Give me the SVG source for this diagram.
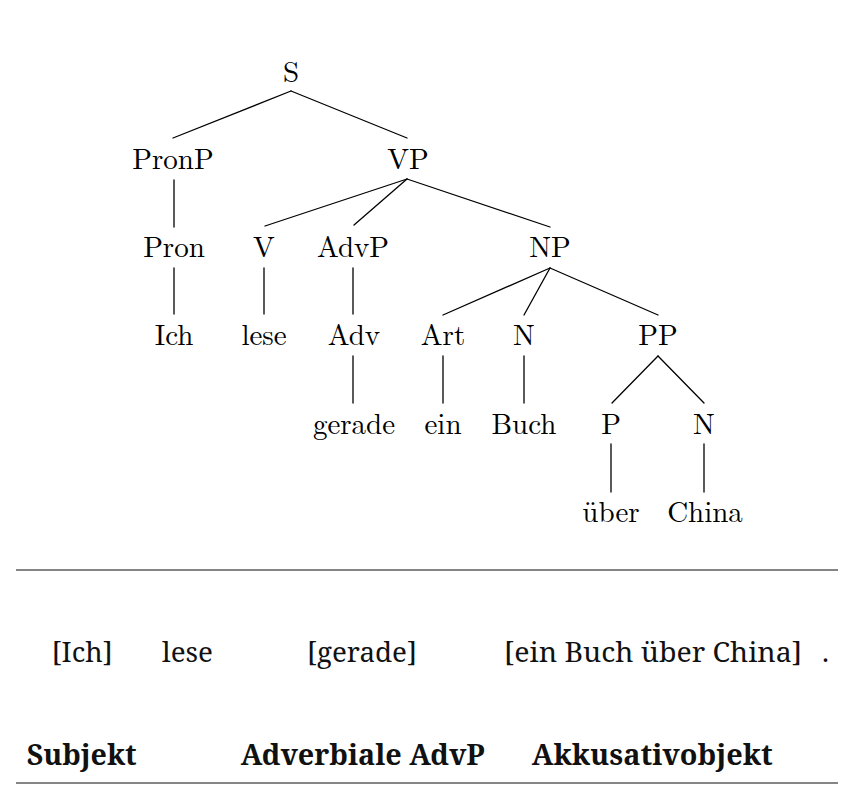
<svg xmlns="http://www.w3.org/2000/svg" width="847" height="803" viewBox="0 0 847 803">
<style>
.t{fill:#000;text-anchor:middle}
.b{fill:#111}
.e{stroke:#000;stroke-width:1.3;fill:none;stroke-linecap:round}
.rule{stroke:#858585;stroke-width:1.8}
</style>
<rect width="847" height="803" fill="#fff"/>
<g id="connectors" class="e">
<line x1="291" y1="91" x2="173" y2="138"/>
<line x1="291" y1="91" x2="407" y2="138"/>
<line x1="174" y1="180" x2="174" y2="227"/>
<line x1="407" y1="179" x2="265" y2="226"/>
<line x1="407" y1="179" x2="354" y2="225"/>
<line x1="407" y1="179" x2="550" y2="227"/>
<line x1="174" y1="268" x2="174" y2="314"/>
<line x1="264" y1="268" x2="264" y2="314"/>
<line x1="353" y1="268" x2="353" y2="314"/>
<line x1="550" y1="268" x2="443" y2="315"/>
<line x1="550" y1="268" x2="524" y2="315"/>
<line x1="550" y1="268" x2="658" y2="315"/>
<line x1="353" y1="356" x2="353" y2="403"/>
<line x1="443" y1="356" x2="443" y2="403"/>
<line x1="524" y1="356" x2="524" y2="403"/>
<line x1="658" y1="356" x2="612" y2="403"/>
<line x1="658" y1="356" x2="704" y2="403"/>
<line x1="611" y1="444" x2="611" y2="492"/>
<line x1="704" y1="444" x2="704" y2="492"/>
</g>
<g id="tree" font-family="Latin Modern Roman, Liberation Serif, serif" font-size="29">
<g id="n-S"><text class="t" x="291" y="81.5">S</text></g>
<g id="n-PronP"><text class="t" x="173" y="169">PronP</text></g>
<g id="n-VP"><text class="t" x="408" y="169">VP</text></g>
<g id="n-Pron"><text class="t" x="174" y="257">Pron</text></g>
<g id="n-V"><text class="t" x="264" y="257">V</text></g>
<g id="n-AdvP"><text class="t" x="353" y="257">AdvP</text></g>
<g id="n-NP"><text class="t" x="550" y="257">NP</text></g>
<g id="n-Ich"><text class="t" x="174" y="345">Ich</text></g>
<g id="n-lese"><text class="t" x="264" y="345">lese</text></g>
<g id="n-Adv"><text class="t" x="354" y="345">Adv</text></g>
<g id="n-Art"><text class="t" x="443" y="345">Art</text></g>
<g id="n-N1"><text class="t" x="524" y="345">N</text></g>
<g id="n-PP"><text class="t" x="658" y="345">PP</text></g>
<g id="n-gerade"><text class="t" x="354" y="433.5">gerade</text></g>
<g id="n-ein"><text class="t" x="443" y="433.5">ein</text></g>
<g id="n-Buch"><text class="t" x="524" y="433.5">Buch</text></g>
<g id="n-P"><text class="t" x="611" y="433.5">P</text></g>
<g id="n-N2"><text class="t" x="704" y="433.5">N</text></g>
<g id="n-ueber"><text class="t" x="611" y="521.7">über</text></g>
<g id="n-China"><text class="t" x="705" y="521.7">China</text></g>
</g>
<line class="rule" x1="16" y1="570" x2="838" y2="570"/>
<g id="sentence" font-family="Noto Serif, DejaVu Serif, serif" font-size="28">
<text class="b" x="51.7" y="661.7" textLength="61" lengthAdjust="spacingAndGlyphs">[Ich]</text>
<text class="b" x="162" y="661.7" textLength="51" lengthAdjust="spacingAndGlyphs">lese</text>
<text class="b" x="307" y="661.7" textLength="110" lengthAdjust="spacingAndGlyphs">[gerade]</text>
<text class="b" x="504" y="661.7" textLength="298" lengthAdjust="spacingAndGlyphs">[ein Buch über China]</text>
<text class="b" x="822" y="661.7">.</text>
</g>
<g id="functions" font-family="Noto Serif, DejaVu Serif, serif" font-size="28" font-weight="bold">
<text class="b" x="26.7" y="765" textLength="110" lengthAdjust="spacingAndGlyphs">Subjekt</text>
<text class="b" x="240.7" y="765" textLength="244" lengthAdjust="spacingAndGlyphs">Adverbiale AdvP</text>
<text class="b" x="531.7" y="765" textLength="241" lengthAdjust="spacingAndGlyphs">Akkusativobjekt</text>
</g>
<line class="rule" x1="16" y1="783" x2="838" y2="783"/>
</svg>
